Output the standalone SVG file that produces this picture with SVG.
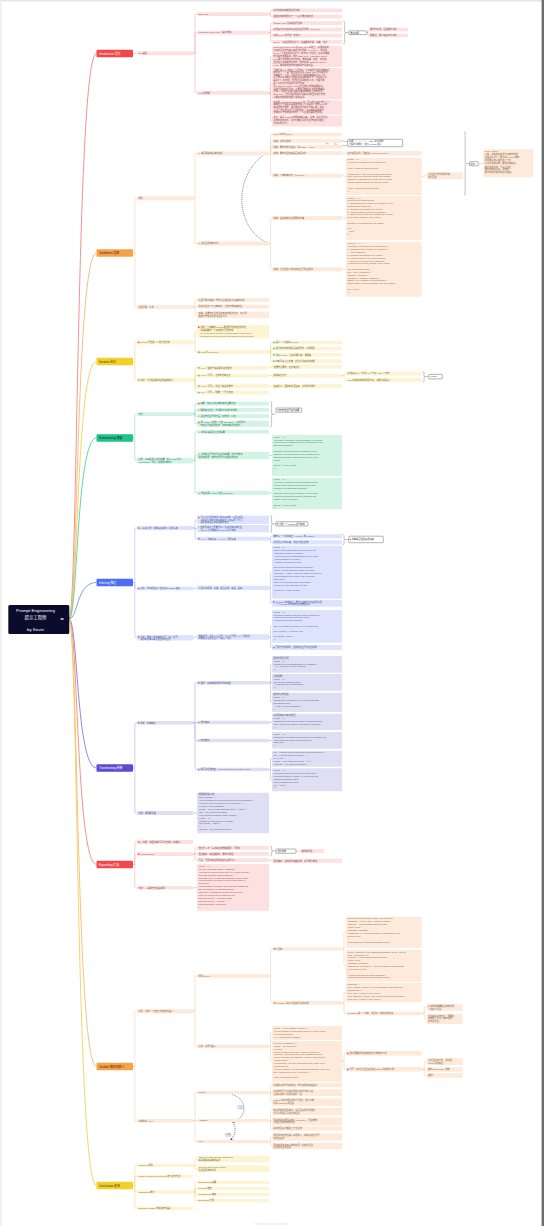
<svg xmlns="http://www.w3.org/2000/svg" width="544" height="1226" viewBox="0 0 544 1226">
<defs>
<style>
text{font-family:"Liberation Sans","Noto Sans CJK SC",sans-serif;font-size:2.2px}
.c{font-size:2.05px}
.h{font-size:2.9px}
.p1{fill:#fde1e1}.p2{fill:#fdeadb}.p3{fill:#fcf4d2}.p4{fill:#d3f4e4}.p5{fill:#dde3fd}.p6{fill:#e0def3}
.sm{fill:#fff;stroke:#555;stroke-width:.45}
#connectors path{fill:none;stroke-width:.6}
#connectors .r{stroke-width:.85}
.l1{stroke:#f6b0b0}.l2{stroke:#f6cda9}.l3{stroke:#efd77a}.l4{stroke:#8fdcb6}.l5{stroke:#a9b7f6}.l6{stroke:#b1ace2}
#connectors .br{stroke:#8a8a8a;stroke-width:.5}
#connectors .rel{stroke:#44506e;stroke-width:.6;stroke-dasharray:1.2 .8}
</style>
<marker id="ar" viewBox="0 0 6 6" refX="5" refY="3" markerWidth="4" markerHeight="4" orient="auto"><path d="M0 0L6 3L0 6z" fill="#44506e"/></marker>
</defs>
<rect width="544" height="1226" fill="#fff"/>
<rect width="544" height="1.5" fill="#e6e6e6"/>
<rect x="0" y="0" width="1.6" height="1226" fill="#efefef"/>
<rect x="541.6" y="0" width="2.4" height="1226" fill="#6e6e6e"/>

<g id="connectors">
<path class="r" stroke="#f47d7d" d="M69 619C78 619 76 53.5 96.5 53.5"/>
<path class="r" stroke="#f7b474" d="M69 619C78 619 76 253 96.5 253"/>
<path class="r" stroke="#efd04a" d="M69 619C78 619 76 361.5 96.5 361.5"/>
<path class="r" stroke="#4ccc96" d="M69 619C78 619 76 438 96.5 438"/>
<path class="r" stroke="#7088f3" d="M69 619C78 619 76 582.5 96.5 582.5"/>
<path class="r" stroke="#7d72d8" d="M69 619C78 619 76 768 96.5 768"/>
<path class="r" stroke="#f47d7d" d="M69 619C78 619 76 864.5 96.5 864.5"/>
<path class="r" stroke="#f7b474" d="M69 619C78 619 76 1066.5 96.5 1066.5"/>
<path class="r" stroke="#efd04a" d="M69 619C78 619 76 1185.5 96.5 1185.5"/>

<path class="l1" d="M133 53.5H136.7"/>
<path class="l1" d="M193.2 53.3H195V15.1Q195 14.1 196 14.1H197"/>
<path class="l1" d="M193.2 53.3H195V33.6Q195 32.6 196 32.6H197"/>
<path class="l1" d="M193.2 53.3H195V91.9Q195 92.9 196 92.9H197"/>
<path class="l1" d="M269 14.1H270.6V11.4Q270.6 10.4 271.6 10.4H272"/>
<path class="l1" d="M269 14.1H270.6V15.6Q270.6 16.6 271.6 16.6H272"/>
<path class="l1" d="M269 32.6H270.6V24.2Q270.6 23.2 271.6 23.2H272"/>
<path class="l1" d="M269 32.6H270.6V30.6Q270.6 29.6 271.6 29.6H272"/>
<path class="l1" d="M269 32.6H270.6V34.6Q270.6 35.6 271.6 35.6H272"/>
<path class="l1" d="M269 32.6H270.6V40.9Q270.6 41.9 271.6 41.9H272"/>
<path class="l1" d="M269 92.9H270.6V57.3Q270.6 56.3 271.6 56.3H272"/>
<path class="l1" d="M269 92.9H270.6V84.6Q270.6 83.6 271.6 83.6H272"/>
<path class="l1" d="M269 92.9H270.6V106.3Q270.6 107.3 271.6 107.3H272"/>
<path class="l1" d="M269 92.9H270.6V120Q270.6 121 271.6 121H272"/>
<path class="br" d="M343.2 21.3Q344.6 21.3 344.6 22.5V31.6Q344.6 32.6 346 32.6Q344.6 32.6 344.6 33.6V42.6Q344.6 43.8 343.2 43.8M346 32.6H348.7"/>
<path class="l1" d="M366.7 32.7H367.9V30.5Q367.9 29.5 368.5 29.5H369"/>
<path class="l1" d="M366.7 32.7H367.9V34.5Q367.9 35.5 368.5 35.5H369"/>

<path class="l2" d="M133 253H134.8V199.3Q134.8 198.3 135.8 198.3H136.7"/>
<path class="l2" d="M133 253H134.8V306Q134.8 307 135.8 307H136.7"/>
<path class="l2" d="M193.2 198.3H195V154.5Q195 153.5 196 153.5H197"/>
<path class="l2" d="M193.2 198.3H195V242.5Q195 243.5 196 243.5H197"/>
<path class="l2" d="M193.2 307H195V301.2Q195 300.2 196 300.2H197"/>
<path class="l2" d="M193.2 307H197"/>
<path class="l2" d="M193.2 307H195V314Q195 315 196 315H197"/>
<path class="l2" d="M269 153.5H270.6V135.6Q270.6 134.6 271.6 134.6H272"/>
<path class="l2" d="M269 153.5H270.6V141.9Q270.6 140.9 271.6 140.9H272"/>
<path class="l2" d="M269 153.5H270.6V147.9Q270.6 146.9 271.6 146.9H272"/>
<path class="l2" d="M269 153.5H272"/>
<path class="l2" d="M269 153.5H270.6V174.6Q270.6 175.6 271.6 175.6H272"/>
<path class="l2" d="M269 243.5H270.6V219Q270.6 218 271.6 218H272"/>
<path class="l2" d="M269 243.5H270.6V268.3Q270.6 269.3 271.6 269.3H272"/>
<path class="l2" d="M342 153.2H346"/>
<path class="l2" d="M342 175.6H344V176.3H346"/>
<path class="l2" d="M342 218H346"/>
<path class="l2" d="M342 269.3H346"/>
<path class="l2" d="M421.7 176.3H424V175.8H426.7"/>
<path class="br" d="M463.8 131.8Q465.2 131.8 465.2 133V162.5Q465.2 163.5 466.6 163.5Q465.2 163.5 465.2 164.5V193.8Q465.2 195 463.8 195M466.6 163.6H469.3"/>
<path class="l2" d="M478.3 163.7H483.3"/>
<path class="br" d="M334 143.3Q339 140.2 347.7 141.6M334 143.6Q339 147 347.7 145.2"/>
<path class="rel" marker-end="url(#ar)" d="M263 155.5C236 175 232 225 267.5 243.3"/>

<path class="l3" d="M133 361.5H134.8V343.3Q134.8 342.3 135.8 342.3H136.7"/>
<path class="l3" d="M133 361.5H134.8V379Q134.8 380 135.8 380H136.7"/>
<path class="l3" d="M193.2 342.3H195V332.6Q195 331.6 196 331.6H197"/>
<path class="l3" d="M193.2 342.3H195V351.2Q195 352.2 196 352.2H197"/>
<path class="l3" d="M193.2 380H195V368.8Q195 367.8 196 367.8H197"/>
<path class="l3" d="M193.2 380H195V376.5Q195 375.5 196 375.5H197"/>
<path class="l3" d="M193.2 380H195V385.1Q195 386.1 196 386.1H197"/>
<path class="l3" d="M193.2 380H195V391.5Q195 392.5 196 392.5H197"/>
<path class="l3" d="M269 352.2H270.6V343.5Q270.6 342.5 271.6 342.5H272"/>
<path class="l3" d="M269 352.2H270.6V349.5Q270.6 348.5 271.6 348.5H272"/>
<path class="l3" d="M269 352.2H270.6V353.8Q270.6 354.8 271.6 354.8H272"/>
<path class="l3" d="M269 352.2H270.6V360.1Q270.6 361.1 271.6 361.1H272"/>
<path class="l3" d="M269 367.8H270.6V366.8H272"/>
<path class="l3" d="M269 375.5H272"/>
<path class="l3" d="M269 386.1H272"/>
<path class="l3" d="M342 375.5H344V374.6Q344 373.6 345 373.6H346"/>
<path class="l3" d="M342 375.5H344V378.9Q344 379.9 345 379.9H346"/>
<path class="br" d="M422.6 371.6Q424 371.6 424 372.8V375.7Q424 376.7 425.4 376.7Q424 376.7 424 377.7V380.8Q424 382 422.6 382M425.4 376.7H428.7"/>

<path class="l4" d="M133 438H134.8V415.1Q134.8 414.1 135.8 414.1H136.7"/>
<path class="l4" d="M133 438H134.8V459.6Q134.8 460.6 135.8 460.6H136.7"/>
<path class="l4" d="M193.2 414.1H195V404.6Q195 403.6 196 403.6H197"/>
<path class="l4" d="M193.2 414.1H195V410.9Q195 409.9 196 409.9H197"/>
<path class="l4" d="M193.2 414.1H195V415.2Q195 416.2 196 416.2H197"/>
<path class="l4" d="M193.2 414.1H195V422.7Q195 423.7 196 423.7H197"/>
<path class="l4" d="M193.2 460.6H195V432.7Q195 431.7 196 431.7H197"/>
<path class="l4" d="M193.2 460.6H195V456.5Q195 455.5 196 455.5H197"/>
<path class="l4" d="M193.2 460.6H195V491.8Q195 492.8 196 492.8H197"/>
<path class="l4" d="M269 455.5H272"/>
<path class="l4" d="M269 492.8H270.6V493.5H272"/>
<path class="br" d="M270.2 401.6Q271.6 401.6 271.6 402.8V413.1Q271.6 414.1 273 414.1Q271.6 414.1 271.6 415.1V425.6Q271.6 426.8 270.2 426.8M273 414.1H276"/>

<path class="l5" d="M133 582.5H134.8V529Q134.8 528 135.8 528H136.7"/>
<path class="l5" d="M133 582.5H134.8V587.5Q134.8 588.5 135.8 588.5H136.7"/>
<path class="l5" d="M133 582.5H134.8V636.7Q134.8 637.7 135.8 637.7H136.7"/>
<path class="l5" d="M193.2 528H195V520.9Q195 519.9 196 519.9H197"/>
<path class="l5" d="M193.2 528H195V528.6H197"/>
<path class="l5" d="M193.2 528H195V537.7Q195 538.7 196 538.7H197"/>
<path class="l5" d="M193.2 588.5H195V587.8H197"/>
<path class="l5" d="M193.2 637.7H195V637H197"/>
<path class="l5" d="M269 538.7H270.6V537.3Q270.6 536.3 271.6 536.3H272"/>
<path class="l5" d="M269 538.7H270.6V541.4Q270.6 542.4 271.6 542.4H272"/>
<path class="l5" d="M269 587.8H270.6V573.2Q270.6 572.2 271.6 572.2H272"/>
<path class="l5" d="M269 587.8H270.6V602.3Q270.6 603.3 271.6 603.3H272"/>
<path class="l5" d="M269 637H270.6V627.3Q270.6 626.3 271.6 626.3H272"/>
<path class="l5" d="M269 637H270.6V646.5Q270.6 647.5 271.6 647.5H272"/>
<path class="br" d="M270.2 515.6Q271.6 515.6 271.6 516.8V522.9Q271.6 523.9 273 523.9Q271.6 523.9 271.6 524.9V531.2Q271.6 532.4 270.2 532.4M273 523.9H276"/>
<path class="br" d="M342.6 534.2Q344 534.2 344 535.4V538.4Q344 539.4 345.4 539.4Q344 539.4 344 540.4V543.5Q344 544.7 342.6 544.7M345.4 539.4H348.7"/>

<path class="l6" d="M133 768H134.8V723.8Q134.8 722.8 135.8 722.8H136.7"/>
<path class="l6" d="M133 768H134.8V812Q134.8 813 135.8 813H136.7"/>
<path class="l6" d="M193.2 722.8H195V683.8Q195 682.8 196 682.8H197"/>
<path class="l6" d="M193.2 722.8H195V722.5H197"/>
<path class="l6" d="M193.2 722.8H195V739.5Q195 740.5 196 740.5H197"/>
<path class="l6" d="M193.2 722.8H195V768.5Q195 769.5 196 769.5H197"/>
<path class="l6" d="M193.2 813H197"/>
<path class="l6" d="M269 682.8H270.6V665.3Q270.6 664.3 271.6 664.3H272"/>
<path class="l6" d="M269 682.8H270.6V682.3H272"/>
<path class="l6" d="M269 682.8H270.6V701.3Q270.6 702.3 271.6 702.3H272"/>
<path class="l6" d="M269 722.5H270.6V721.8H272"/>
<path class="l6" d="M269 740.5H272"/>
<path class="l6" d="M269 769.5H270.6V759.7Q270.6 758.7 271.6 758.7H272"/>
<path class="l6" d="M269 769.5H270.6V778.8Q270.6 779.8 271.6 779.8H272"/>

<path class="l1" d="M133 864.5H134.8V843Q134.8 842 135.8 842H136.7"/>
<path class="l1" d="M133 864.5H134.8V855.1Q134.8 854.1 135.8 854.1H136.7"/>
<path class="l1" d="M133 864.5H134.8V886.8Q134.8 887.8 135.8 887.8H136.7"/>
<path class="l1" d="M193.2 854.1H195V848.8Q195 847.8 196 847.8H197"/>
<path class="l1" d="M193.2 854.1H195V853.8H197"/>
<path class="l1" d="M193.2 854.1H195V859.1Q195 860.1 196 860.1H197"/>
<path class="l1" d="M193.2 887.8H195V887.3H197"/>
<path class="l1" d="M269 860.1H270.6V860.7H272"/>
<path class="br" d="M270.2 845.9Q271.6 845.9 271.6 847.1V849.9Q271.6 850.9 273 850.9Q271.6 850.9 271.6 851.9V854.6Q271.6 855.8 270.2 855.8M273 850.9H276"/>
<path class="l1" d="M296 851.1H300"/>

<path class="l2" d="M133 1066.5H134.8V1012.3Q134.8 1011.3 135.8 1011.3H136.7"/>
<path class="l2" d="M133 1066.5H134.8V1119.7Q134.8 1120.7 135.8 1120.7H136.7"/>
<path class="l2" d="M193.2 1011.3H195V977Q195 976 196 976H197"/>
<path class="l2" d="M193.2 1011.3H195V1045.5Q195 1046.5 196 1046.5H197"/>
<path class="l2" d="M193.2 1120.7H195V1093.6Q195 1092.6 196 1092.6H197"/>
<path class="l2" d="M193.2 1120.7H197"/>
<path class="l2" d="M193.2 1120.7H195V1140.6Q195 1141.6 196 1141.6H197"/>
<path class="l2" d="M269 976H270.6V949.9Q270.6 948.9 271.6 948.9H272"/>
<path class="l2" d="M269 976H270.6V1001.8Q270.6 1002.8 271.6 1002.8H272"/>
<path class="l2" d="M269 1046.5H270.6V1034Q270.6 1033 271.6 1033H272"/>
<path class="l2" d="M269 1046.5H270.6V1060.3Q270.6 1061.3 271.6 1061.3H272"/>
<path class="l2" d="M269 1092.6H270.6V1086Q270.6 1085 271.6 1085H272"/>
<path class="l2" d="M269 1092.6H272"/>
<path class="l2" d="M269 1092.6H270.6V1101.1Q270.6 1102.1 271.6 1102.1H272"/>
<path class="l2" d="M269 1120.6H270.6V1112.5Q270.6 1111.5 271.6 1111.5H272"/>
<path class="l2" d="M269 1120.6H270.6V1121.3H272"/>
<path class="l2" d="M269 1120.6H270.6V1127.5Q270.6 1128.5 271.6 1128.5H272"/>
<path class="l2" d="M269 1141.6H270.6V1138Q270.6 1137 271.6 1137H272"/>
<path class="l2" d="M269 1141.6H270.6V1145Q270.6 1146 271.6 1146H272"/>
<path class="l2" d="M342 948.9H344V933.2Q344 932.2 345 932.2H346"/>
<path class="l2" d="M342 948.9H344V964.8Q344 965.8 345 965.8H346"/>
<path class="l2" d="M342 1002.8H344V993.5Q344 992.5 345 992.5H346"/>
<path class="l2" d="M342 1002.8H344V1012.5Q344 1013.5 345 1013.5H346"/>
<path class="l2" d="M342 1061.3H344V1054.3Q344 1053.3 345 1053.3H346"/>
<path class="l2" d="M342 1061.3H344V1068.3Q344 1069.3 345 1069.3H346"/>
<path class="l2" d="M421.7 1013.5H424.2V1008.3Q424.2 1007.3 425.2 1007.3H426.7"/>
<path class="l2" d="M421.7 1013.5H424.2V1018Q424.2 1019 425.2 1019H426.7"/>
<path class="l2" d="M421.7 1069.3H424.2V1062.6Q424.2 1061.6 425.2 1061.6H426.7"/>
<path class="l2" d="M421.7 1069.3H424.2V1069.5H426.7"/>
<path class="l2" d="M421.7 1069.3H424.2V1074.5Q424.2 1075.5 425.2 1075.5H426.7"/>
<path class="rel" marker-end="url(#ar)" d="M231.7 1094.4C248 1099 248 1117 232.5 1122.4"/>
<path class="rel" marker-end="url(#ar)" d="M233 1122.4C237 1128 235 1136 230.5 1139.9"/>

<path class="l3" d="M133 1185.5H134.8V1166.3Q134.8 1165.3 135.8 1165.3H136.7"/>
<path class="l3" d="M133 1185.5H134.8V1177.6Q134.8 1176.6 135.8 1176.6H136.7"/>
<path class="l3" d="M133 1185.5H134.8V1191Q134.8 1192 135.8 1192H136.7"/>
<path class="l3" d="M133 1185.5H134.8V1207.3Q134.8 1208.3 135.8 1208.3H136.7"/>
<path class="l3" d="M193.2 1165.3H195V1160Q195 1159 196 1159H197"/>
<path class="l3" d="M193.2 1165.3H195V1167.6Q195 1168.6 196 1168.6H197"/>
<path class="l3" d="M193.2 1192H195V1183.3Q195 1182.3 196 1182.3H197"/>
<path class="l3" d="M193.2 1192H195V1189.6Q195 1188.6 196 1188.6H197"/>
<path class="l3" d="M193.2 1192H195V1193.6Q195 1194.6 196 1194.6H197"/>
<path class="l3" d="M193.2 1192H195V1199.6Q195 1200.6 196 1200.6H197"/>
</g>

<g id="root">
<rect x="8.3" y="605" width="61" height="29" rx="1.5" fill="#0b0b2e"/>
<text x="35.5" y="611.8" text-anchor="middle" fill="#fff" style="font-size:4.4px">Prompt Engineering</text>
<text x="35.5" y="618.6" text-anchor="middle" fill="#fff" style="font-size:4.4px">提示工程师</text>
<text x="35.5" y="630.6" text-anchor="middle" fill="#fff" style="font-size:4.4px">by Kevin</text>
<rect x="60.6" y="618.3" width="3" height="1.3" fill="#fff"/>
</g>

<g id="intro" fill="#8a4545">
<g id="n-intro"><rect x="96.5" y="49.8" width="36.5" height="7.4" rx="1" fill="#f3474a"/><text class="h" x="99" y="54.6" fill="#fff">Introduction 导言</text></g>
<g id="n-llmtype"><rect class="p1" x="136.7" y="51.3" width="56.5" height="4" rx=".8"/><text x="138.4" y="54.1">LLM类型</text></g>
<g id="n-base"><rect class="p1" x="197" y="12.2" width="72" height="3.8" rx=".8"/><text x="198.5" y="14.9">Base LLM</text></g>
<g id="n-it"><rect class="p1" x="197" y="30.7" width="72" height="3.8" rx=".8"/><text x="198.5" y="33.4">Instruction Tuned LLM（指令调优）</text></g>
<g id="n-principle"><rect class="p1" x="197" y="91" width="72" height="3.8" rx=".8"/><text x="198.5" y="93.7">LLM 的原理</text></g>
<g id="n-base1"><rect class="p1" x="272" y="8.5" width="70" height="3.8" rx=".8"/><text x="273.5" y="11.2">基于文本训练数据进行训练</text></g>
<g id="n-base2"><rect class="p1" x="272" y="14.7" width="70" height="3.8" rx=".8"/><text x="273.5" y="17.4">根据训练数据预测下一个最可能出现的词</text></g>
<g id="n-it1"><rect class="p1" x="272" y="21.3" width="70" height="3.8" rx=".8"/><text x="273.5" y="24">以 Base LLM 为基础进行训练</text></g>
<g id="n-it2"><rect class="p1" x="272" y="27.7" width="70" height="3.8" rx=".8"/><text x="273.5" y="30.4">使用指令及对应的良好回答进行微调（fine-tune）</text></g>
<g id="n-it3"><rect class="p1" x="272" y="33.7" width="70" height="3.8" rx=".8"/><text x="273.5" y="36.4">使用 RLHF 技术进一步优化</text></g>
<g id="n-it4"><rect class="p1" x="272" y="40" width="70" height="3.8" rx=".8"/><text x="273.5" y="42.7">RLHF：人类反馈强化学习，使其更有帮助、诚实、无害</text></g>
<g id="n-it-sum"><rect class="sm" x="348.7" y="30.8" width="18" height="3.8" rx=".8"/><text x="350.3" y="33.5" fill="#333">推荐使用</text></g>
<g id="n-it-s1"><rect class="p1" x="369" y="27.7" width="39" height="3.6" rx=".8"/><text x="370.3" y="30.3">更易于使用，回答更有帮助</text></g>
<g id="n-it-s2"><rect class="p1" x="369" y="33.7" width="39" height="3.6" rx=".8"/><text x="370.3" y="36.3">更安全，更少输出有害内容</text></g>
<g id="n-pa"><rect class="p1" x="272" y="45.7" width="70" height="21.2" rx=".8"/>
<text x="273.5" y="48.4"><tspan x="273.5">Instruction Tuned LLM 在 Base LLM 基础上，使用指令和</tspan><tspan x="273.5" dy="2.9">良好的回答作为输入输出进行微调（fine-tune），再使用</tspan><tspan x="273.5" dy="2.9">RLHF（人类反馈强化学习）技术进一步优化，使系统更能</tspan><tspan x="273.5" dy="2.9">有帮助地遵循指令。相比 Base LLM，Instruction Tuned</tspan><tspan x="273.5" dy="2.9">LLM 更不容易输出有害内容，更加诚实、安全、有帮助，</tspan><tspan x="273.5" dy="2.9">因此在大多数实际应用中，推荐使用 Instruction Tuned</tspan><tspan x="273.5" dy="2.9">LLM。本课程的所有内容都基于此类模型。</tspan></text></g>
<g id="n-pb"><rect class="p1" x="272" y="68" width="70" height="31.2" rx=".8"/>
<text x="273.5" y="70.6"><tspan x="273.5">当我们向 LLM 提出一个问题时，它会根据已经学到的知识</tspan><tspan x="273.5" dy="2.6">来预测下一个最可能出现的词语。Base LLM 仅仅是预测</tspan><tspan x="273.5" dy="2.6">文本的下一个词，因此当你问“法国的首都是什么？”时，</tspan><tspan x="273.5" dy="2.6">它可能会接着输出“法国最大的城市是什么？法国的人口</tspan><tspan x="273.5" dy="2.6">是多少？”等内容，因为在互联网的文章中，这很可能</tspan><tspan x="273.5" dy="2.6">是一系列关于法国的问答题列表。</tspan><tspan x="273.5" dy="3.6">而 Instruction Tuned LLM 经过训练后能够遵循指令，</tspan><tspan x="273.5" dy="2.6">当你问同样的问题时，它更有可能输出“法国的首都是</tspan><tspan x="273.5" dy="2.6">巴黎”。这类模型通常先在大量文本数据上训练得到</tspan><tspan x="273.5" dy="2.6">Base LLM，然后再使用指令及其良好的回答进行微调，</tspan><tspan x="273.5" dy="2.6">以更好地理解和遵循人类的指令。</tspan></text></g>
<g id="n-pc"><rect class="p1" x="272" y="100.2" width="70" height="14.3" rx=".8"/>
<text x="273.5" y="102.7"><tspan x="273.5">在使用 Instruction Tuned LLM 时，可以把它类比为给一个</tspan><tspan x="273.5" dy="2.6">聪明但不了解任务具体细节的人下达指令。如果 LLM 的</tspan><tspan x="273.5" dy="2.6">输出结果不理想，很可能是因为指令不够清晰。例如，</tspan><tspan x="273.5" dy="2.6">“请写一些关于艾伦·图灵的内容”，最好明确说明希望</tspan><tspan x="273.5" dy="2.6">文本侧重于他的科学工作、个人生活还是历史角色。</tspan></text></g>
<g id="n-pd"><rect class="p1" x="272" y="115.5" width="70" height="11" rx=".8"/>
<text x="273.5" y="118.3"><tspan x="273.5">总之，编写 prompt 的原则就是清晰、具体，并给予模型</tspan><tspan x="273.5" dy="2.8">足够的思考时间，同时也要意识到模型存在的局限性，</tspan><tspan x="273.5" dy="2.8">比如幻觉问题。</tspan></text></g>
</g>

<g id="guidelines" fill="#85603f">
<g id="n-guide"><rect x="96.5" y="249.3" width="36.5" height="7.4" rx="1" fill="#f7a24b"/><text class="h" x="99" y="254.1" fill="#3a2716">Guidelines 指南</text></g>
<g id="n-yz"><rect class="p2" x="136.7" y="196.3" width="56.5" height="4" rx=".8"/><text x="138.4" y="199.1">原则</text></g>
<g id="n-hal"><rect class="p2" x="136.7" y="305" width="56.5" height="4" rx=".8"/><text x="138.4" y="307.8">模型局限：幻觉</text></g>
<g id="n-g1"><rect class="p2" x="197" y="151.5" width="72" height="4" rx=".8"/><text x="198.5" y="154.3">1. 编写明确和具体的指令</text></g>
<g id="n-g2"><rect class="p2" x="197" y="241.5" width="72" height="4" rx=".8"/><text x="198.5" y="244.3">2. 给模型思考的时间</text></g>
<g id="n-h1"><rect class="p2" x="197" y="298.3" width="72" height="3.8" rx=".8"/><text x="198.5" y="301">模型可能会编造一些看似合理但并不真实的内容</text></g>
<g id="n-h2"><rect class="p2" x="197" y="304.7" width="72" height="3.8" rx=".8"/><text x="198.5" y="307.4">即使模型学习了大量知识，也并不能完美记住</text></g>
<g id="n-h3"><rect class="p2" x="197" y="311.7" width="72" height="6.6" rx=".8"/><text x="198.5" y="314.4"><tspan x="198.5">策略：先要求模型找到文本中的相关信息，然后再</tspan><tspan x="198.5" dy="2.8">根据这些相关信息来回答问题</tspan></text></g>
<g id="n-g1a"><rect class="p2" x="272" y="132.7" width="70" height="3.8" rx=".8"/><text x="273.5" y="135.4">Clear 不等于 Short</text></g>
<g id="n-g1b"><rect class="p2" x="272" y="139" width="70" height="3.8" rx=".8"/><text x="273.5" y="141.7">策略：使用分隔符</text></g>
<g id="n-g1c"><rect class="p2" x="272" y="145" width="70" height="3.8" rx=".8"/><text x="273.5" y="147.7">策略：要求结构化输出，如 JSON、HTML</text></g>
<g id="n-g1d"><rect class="p2" x="272" y="151.3" width="70" height="3.8" rx=".8"/><text x="273.5" y="154">策略：要求模型检查是否满足条件</text></g>
<g id="n-g1e"><rect class="p2" x="272" y="173.7" width="70" height="3.8" rx=".8"/><text x="273.5" y="176.4">策略：少量样本提示（few-shot）</text></g>
<text x="325.6" y="144" style="font-size:1.5px" fill="#666">分隔</text>
<g id="n-delim"><rect class="sm" x="347.7" y="139.3" width="55" height="7.4" rx=".8"/><text x="349.2" y="142.1" fill="#333"><tspan x="349.2">使用 ```、"""、&lt; &gt;、&lt;tag&gt; 等分隔符</tspan><tspan x="349.2" dy="2.9">分隔不同部分，避免 prompt 注入</tspan></text></g>
<g id="n-g1d1"><rect class="p2" x="346" y="151" width="75.7" height="4.6" rx=".8"/><text x="347.5" y="154">若不满足条件，则输出“No steps provided.”</text></g>
<g id="n-g1e1"><rect class="p2" x="346" y="157.7" width="75.7" height="37.3" rx=".8"/>
<text class="c" x="347.5" y="160.3"><tspan x="347.5">prompt = f"""</tspan><tspan x="347.5" dy="2.85">Your task is to answer in a consistent style.</tspan><tspan x="347.5" dy="5.7">&lt;child&gt;: Teach me about patience.</tspan><tspan x="347.5" dy="5.7">&lt;grandparent&gt;: The river that carves the deepest</tspan><tspan x="347.5" dy="2.85">valley flows from a modest spring; the grandest</tspan><tspan x="347.5" dy="2.85">symphony originates from a single note; the most</tspan><tspan x="347.5" dy="2.85">intricate tapestry begins with a solitary thread.</tspan><tspan x="347.5" dy="5.7">&lt;child&gt;: Teach me about resilience.</tspan><tspan x="347.5" dy="2.85">"""</tspan></text></g>
<g id="n-g1e2"><rect class="p2" x="426.7" y="172.3" width="36" height="7" rx=".8"/><text x="428" y="175.2"><tspan x="428">让模型模仿示例的风格</tspan><tspan x="428" dy="2.8">进行回答</tspan></text></g>
<g id="n-g1sum"><rect class="sm" x="469.3" y="161.6" width="9" height="4.2" rx=".8"/><text x="470.6" y="164.5" fill="#333">提示</text></g>
<g id="n-g1note"><rect class="p2" x="483.3" y="149.3" width="50" height="28" rx=".8"/>
<text x="484.8" y="152.2"><tspan x="484.8">Clear ≠ Short：</tspan><tspan x="484.8" dy="3.2">清晰、具体的指令并不意味着简短，</tspan><tspan x="484.8" dy="2.8">在很多情况下，更长的 prompt 能够</tspan><tspan x="484.8" dy="2.8">提供更多的清晰度和上下文，</tspan><tspan x="484.8" dy="2.8">从而得到更详细、更相关的输出。</tspan><tspan x="484.8" dy="3.8">通过提供示例，可以让模型</tspan><tspan x="484.8" dy="2.8">更好地理解任务，并按照</tspan><tspan x="484.8" dy="2.8">期望的格式和风格进行输出。</tspan></text></g>
<g id="n-g2a"><rect class="p2" x="272" y="216" width="70" height="4" rx=".8"/><text x="273.5" y="218.8">策略：指定完成任务所需的步骤</text></g>
<g id="n-g2b"><rect class="p2" x="272" y="267.3" width="70" height="4" rx=".8"/><text x="273.5" y="270.1">策略：让模型在下结论前先自己找出解法</text></g>
<g id="n-g2a1"><rect class="p2" x="346" y="196" width="75.7" height="44" rx=".8"/>
<text class="c" x="347.5" y="198.6"><tspan x="347.5">prompt_1 = f"""</tspan><tspan x="347.5" dy="2.8">Perform the following actions:</tspan><tspan x="347.5" dy="2.8">1 - Summarize the following text delimited by triple</tspan><tspan x="347.5" dy="2.8">backticks with 1 sentence.</tspan><tspan x="347.5" dy="2.8">2 - Translate the summary into French.</tspan><tspan x="347.5" dy="2.8">3 - List each name in the French summary.</tspan><tspan x="347.5" dy="2.8">4 - Output a json object that contains the following</tspan><tspan x="347.5" dy="2.8">keys: french_summary, num_names.</tspan><tspan x="347.5" dy="5.6">Separate your answers with line breaks.</tspan><tspan x="347.5" dy="5.6">Text:</tspan><tspan x="347.5" dy="2.8">```{text}```</tspan><tspan x="347.5" dy="2.8">"""</tspan></text></g>
<g id="n-g2b1"><rect class="p2" x="346" y="241.7" width="75.7" height="55" rx=".8"/>
<text class="c" x="347.5" y="244.4"><tspan x="347.5">prompt_2 = f"""</tspan><tspan x="347.5" dy="2.85">Your task is to perform the following actions:</tspan><tspan x="347.5" dy="2.85">1 - Summarize the following text delimited by</tspan><tspan x="347.5" dy="2.85">  &lt;&gt; with 1 sentence.</tspan><tspan x="347.5" dy="2.85">2 - Translate the summary into French.</tspan><tspan x="347.5" dy="2.85">3 - List each name in the French summary.</tspan><tspan x="347.5" dy="2.85">4 - Output a json object that contains the</tspan><tspan x="347.5" dy="2.85">  following keys: french_summary, num_names.</tspan><tspan x="347.5" dy="5.7">Use the following format:</tspan><tspan x="347.5" dy="2.85">Text: &lt;text to summarize&gt;</tspan><tspan x="347.5" dy="2.85">Summary: &lt;summary&gt;</tspan><tspan x="347.5" dy="2.85">Translation: &lt;summary translation&gt;</tspan><tspan x="347.5" dy="2.85">Names: &lt;list of names in French summary&gt;</tspan><tspan x="347.5" dy="2.85">Output JSON: &lt;json with summary and num_names&gt;</tspan><tspan x="347.5" dy="5.7">Text: &lt;{text}&gt;</tspan><tspan x="347.5" dy="2.85">"""</tspan></text></g>
</g>

<g id="iterative" fill="#7a6620">
<g id="n-iter"><rect x="96.5" y="357.8" width="36.5" height="7.4" rx="1" fill="#f2d12a"/><text class="h" x="99" y="362.6" fill="#3a3010">Iterative 迭代</text></g>
<g id="n-i1"><rect class="p3" x="136.7" y="340.3" width="56.5" height="4" rx=".8"/><circle cx="138.6" cy="342.3" r=".85" fill="#f0504a"/><text x="140.2" y="343.1">Prompt 开发是一个迭代的过程</text></g>
<g id="n-i2"><rect class="p3" x="136.7" y="378" width="56.5" height="4" rx=".8"/><circle cx="138.6" cy="380" r=".85" fill="#3cc07a"/><text x="140.2" y="380.8">案例：从产品说明书生成营销文案</text></g>
<g id="n-i1a"><rect class="p3" x="197" y="325" width="72" height="13.3" rx=".8"/><circle cx="198.8" cy="327.2" r=".85" fill="#f0504a"/><text x="200.4" y="327.9"><tspan x="200.4">没有一个完美的 prompt 能适用于所有应用场景，</tspan><tspan x="200.4" dy="2.8">关键是要有一个好的迭代开发流程</tspan><tspan x="200.4" dy="3">key to being an effective prompt engineer isn't about</tspan><tspan x="200.4" dy="2.8">knowing the perfect prompt, but having a good process</tspan></text></g>
<g id="n-i1b"><rect class="p3" x="197" y="350.3" width="72" height="3.8" rx=".8"/><circle cx="198.8" cy="352.2" r=".85" fill="#3cc07a"/><text x="200.4" y="353">Idea ⇄ Implement</text></g>
<g id="n-i1b1"><rect class="p3" x="272" y="340.7" width="70" height="3.6" rx=".8"/><circle cx="273.8" cy="342.5" r=".85" fill="#3cc07a"/><text x="275.4" y="343.3">先写一个初始的 prompt</text></g>
<g id="n-i1b2"><rect class="p3" x="272" y="346.7" width="70" height="3.6" rx=".8"/><circle cx="273.8" cy="348.5" r=".85" fill="#3cc07a"/><text x="275.4" y="349.3">运行并观察结果是否满足需求，分析原因</text></g>
<g id="n-i1b3"><rect class="p3" x="272" y="353" width="70" height="3.6" rx=".8"/><circle cx="273.8" cy="354.8" r=".85" fill="#3cc07a"/><text x="275.4" y="355.6">改进 prompt，让指令更清晰、更明确</text></g>
<g id="n-i1b4"><rect class="p3" x="272" y="359.3" width="70" height="3.6" rx=".8"/><circle cx="273.8" cy="361.1" r=".85" fill="#3cc07a"/><text x="275.4" y="361.9">不断重复以上步骤，直到得到满意的结果</text></g>
<g id="n-v1"><rect class="p3" x="197" y="366" width="72" height="3.7" rx=".8"/><circle cx="198.8" cy="367.8" r=".85" fill="#3cc07a"/><text x="200.4" y="368.6">Ver.1：根据产品说明书生成描述</text></g>
<g id="n-v2"><rect class="p3" x="197" y="373.7" width="72" height="3.7" rx=".8"/><circle cx="198.8" cy="375.5" r=".85" fill="#3cc07a"/><text x="200.4" y="376.3">Ver.2：问题1：生成的文本太长</text></g>
<g id="n-v3"><rect class="p3" x="197" y="384.3" width="72" height="3.7" rx=".8"/><circle cx="198.8" cy="386.1" r=".85" fill="#3cc07a"/><text x="200.4" y="386.9">Ver.3：问题2：关注了错误的细节</text></g>
<g id="n-v4"><rect class="p3" x="197" y="390.7" width="72" height="3.7" rx=".8"/><circle cx="198.8" cy="392.5" r=".85" fill="#3cc07a"/><text x="200.4" y="393.3">Ver.4：问题3：需要一个尺寸表格</text></g>
<g id="n-v1a"><rect class="p3" x="272" y="365" width="70" height="3.7" rx=".8"/><text x="273.5" y="367.6">结果符合要求，但文本太长</text></g>
<g id="n-v2a"><rect class="p3" x="272" y="373.7" width="70" height="3.7" rx=".8"/><text x="273.5" y="376.3">限制输出长度</text></g>
<g id="n-v3a"><rect class="p3" x="272" y="384.3" width="70" height="3.7" rx=".8"/><text x="273.5" y="386.9">指定受众：面向家具零售商，侧重技术细节</text></g>
<g id="n-v2a1"><rect class="p3" x="346" y="371.7" width="75.7" height="3.8" rx=".8"/><text x="347.5" y="374.4">使用最多 50 个单词 / 3 个句子 / 280 个字符</text></g>
<g id="n-v2a2"><rect class="p3" x="346" y="378" width="75.7" height="3.8" rx=".8"/><text x="347.5" y="380.7">LLM 对精确字数的把握不好，结果只是接近</text></g>
<g id="n-extract"><rect class="sm" x="428.7" y="374.4" width="13.6" height="4.5" rx=".8"/><text x="430.1" y="377.4" fill="#333">extract</text></g>
</g>

<g id="summarizing" fill="#2d7656">
<g id="n-summ"><rect x="96.5" y="434.3" width="36.5" height="7.4" rx="1" fill="#1ec485"/><text class="h" x="99" y="439.1" fill="#0f2f22">Summarizing 摘要</text></g>
<g id="n-s1"><rect class="p4" x="136.7" y="412.3" width="56.5" height="3.6" rx=".8"/><text x="138.4" y="414.9">方法</text></g>
<g id="n-s2"><rect class="p4" x="136.7" y="457.7" width="56.5" height="5.8" rx=".8"/><text x="138.4" y="460"><tspan x="138.4">案例：对商品评论进行摘要（在 prompt 中以</tspan><tspan x="138.4" dy="2.7">“Summarize” 开头，并限制字数等）</tspan></text></g>
<g id="n-s1a"><rect class="p4" x="197" y="401.7" width="72" height="3.8" rx=".8"/><circle cx="198.8" cy="403.6" r=".85" fill="#f0504a"/><text x="200.4" y="404.4">摘要：快速了解大量文本的主要内容</text></g>
<g id="n-s1b"><rect class="p4" x="197" y="408" width="72" height="3.8" rx=".8"/><circle cx="198.8" cy="409.9" r=".85" fill="#f0c830"/><text x="200.4" y="410.7">限制输出长度（单词数/句子数/字符数）</text></g>
<g id="n-s1c"><rect class="p4" x="197" y="414.3" width="72" height="3.8" rx=".8"/><circle cx="198.8" cy="416.2" r=".85" fill="#f0c830"/><text x="200.4" y="417">关注特定主题或方面（如物流、价格）</text></g>
<g id="n-s1d"><rect class="p4" x="197" y="420.7" width="72" height="6" rx=".8"/><circle cx="198.8" cy="422.6" r=".85" fill="#f0504a"/><text x="200.4" y="423.3"><tspan x="200.4">用 extract（提取）代替 summarize，只提取与</tspan><tspan x="200.4" dy="2.7">特定主题相关的信息（如物流相关的信息）</tspan></text></g>
<g id="n-s1sum"><rect class="sm" x="276" y="408" width="25.7" height="4.2" rx=".8"/><text x="277.4" y="410.9" fill="#333">针对特定主题进行摘要</text></g>
<g id="n-s2a"><rect class="p4" x="197" y="430" width="72" height="3.4" rx=".8"/><text x="198.5" y="432.5">1. 对单条商品评论生成摘要</text></g>
<g id="n-s2b"><rect class="p4" x="197" y="451.7" width="72" height="7.6" rx=".8"/><text x="198.5" y="454.7"><tspan x="198.5">2. 以特定主题为侧重点生成摘要：侧重于物流</tspan><tspan x="198.5" dy="2.8">相关的信息，或者侧重于价格相关的信息</tspan></text></g>
<g id="n-s2c"><rect class="p4" x="197" y="490.7" width="72" height="4.3" rx=".8"/><text x="198.5" y="493.6">3. 尝试使用 extract 代替 summarize</text></g>
<g id="n-s2b1"><rect class="p4" x="272" y="435" width="70" height="41" rx=".8"/>
<text class="c" x="273.5" y="437.7"><tspan x="273.5">prompt = f"""</tspan><tspan x="273.5" dy="2.85">Your task is to generate a short summary of a product</tspan><tspan x="273.5" dy="2.85">review from an ecommerce site to give feedback to the</tspan><tspan x="273.5" dy="2.85">Shipping department.</tspan><tspan x="273.5" dy="5.7">Summarize the review below, delimited by triple</tspan><tspan x="273.5" dy="2.85">backticks, in at most 30 words, and focusing on any</tspan><tspan x="273.5" dy="2.85">aspects that mention shipping and delivery of the</tspan><tspan x="273.5" dy="2.85">product.</tspan><tspan x="273.5" dy="5.7">Review: ```{prod_review}```</tspan><tspan x="273.5" dy="2.85">"""</tspan></text></g>
<g id="n-s2c1"><rect class="p4" x="272" y="477.7" width="70" height="31.6" rx=".8"/>
<text class="c" x="273.5" y="480.3"><tspan x="273.5">prompt = f"""</tspan><tspan x="273.5" dy="2.8">Your task is to extract relevant information from a</tspan><tspan x="273.5" dy="2.8">product review from an ecommerce site to give</tspan><tspan x="273.5" dy="2.8">feedback to the Shipping department.</tspan><tspan x="273.5" dy="5.6">From the review below, delimited by triple quotes</tspan><tspan x="273.5" dy="2.8">extract the information relevant to shipping and</tspan><tspan x="273.5" dy="2.8">delivery. Limit to 30 words.</tspan><tspan x="273.5" dy="5.6">Review: ```{prod_review}```</tspan><tspan x="273.5" dy="2.8">"""</tspan></text></g>
</g>

<g id="inferring" fill="#44549a">
<g id="n-inf"><rect x="96.5" y="578.8" width="36.5" height="7.4" rx="1" fill="#4d6ef5"/><text class="h" x="99" y="583.6" fill="#fff">Inferring 推理</text></g>
<g id="n-f1"><rect class="p5" x="136.7" y="526" width="56.5" height="4" rx=".8"/><circle cx="138.6" cy="528" r=".85" fill="#f0504a"/><text x="140.2" y="528.8">1. 情感分析：判断情感倾向、识别情绪</text></g>
<g id="n-f2"><rect class="p5" x="136.7" y="586.7" width="56.5" height="3.6" rx=".8"/><circle cx="138.6" cy="588.5" r=".85" fill="#f0504a"/><text x="140.2" y="589.3">案例：同时提取多个信息并以 JSON 输出</text></g>
<g id="n-f3"><rect class="p5" x="136.7" y="635" width="56.5" height="5.4" rx=".8"/><circle cx="138.6" cy="636.9" r=".85" fill="#f0504a"/><text x="140.2" y="637.5"><tspan x="140.2">案例：推断一段文本的主题（多个主题），</tspan><tspan x="140.2" dy="2.6">并判断文本中是否包含特定主题</tspan></text></g>
<g id="n-f1a"><rect class="p5" x="197" y="515.7" width="72" height="8.4" rx=".8"/><circle cx="198.8" cy="517.5" r=".85" fill="#f0504a"/><text x="200.4" y="518.1"><tspan x="200.4">可以让模型判断评论的情感倾向（正面/负面），</tspan><tspan x="200.4" dy="2.6">识别评论中表达的情绪类型（如愤怒、开心），</tspan><tspan x="200.4" dy="2.6">并提取商品名称和品牌等信息</tspan></text></g>
<g id="n-f1b"><rect class="p5" x="197" y="525" width="72" height="7.3" rx=".8"/><circle cx="198.8" cy="527" r=".85" fill="#f0c830"/><text x="200.4" y="527.7"><tspan x="200.4">传统机器学习需要为每个任务单独训练模型，</tspan><tspan x="200.4" dy="2.8">而 LLM 只需要编写 prompt 即可完成</tspan></text></g>
<g id="n-f1c"><rect class="p5" x="197" y="536.7" width="72" height="4" rx=".8"/><circle cx="198.8" cy="538.7" r=".85" fill="#f0504a"/><text x="200.4" y="539.5">Ver.1：判断情感 → Ver.2：识别情绪</text></g>
<g id="n-f1sum"><rect class="sm" x="276" y="521.7" width="32" height="4.3" rx=".8"/><circle cx="277.7" cy="523.85" r=".8" fill="#f0504a"/><text x="279.2" y="524.6" fill="#333">只需一个 prompt 即可完成</text></g>
<g id="n-f1c1"><rect class="p5" x="272" y="534.3" width="70" height="4" rx=".8"/><text x="273.5" y="537.1">要求以一个单词输出：positive 或 negative</text></g>
<g id="n-f1c2"><rect class="p5" x="272" y="540.3" width="70" height="4.3" rx=".8"/><text x="273.5" y="543.2">识别评论中的情绪，列出不超过五种</text></g>
<g id="n-f1csum"><rect class="sm" x="348.7" y="536.2" width="34.6" height="6.5" rx=".8"/><circle cx="350.4" cy="539.45" r=".8" fill="#f0504a"/><text x="351.9" y="540.2" fill="#333">判断是否包含愤怒情绪</text></g>
<g id="n-f2a"><rect class="p5" x="197" y="585.7" width="72" height="4.3" rx=".8"/><text x="198.5" y="588.6">从评论中提取：情绪、是否愤怒、商品、品牌</text></g>
<g id="n-f2a1"><rect class="p5" x="272" y="545.7" width="70" height="53" rx=".8"/>
<text class="c" x="273.5" y="548.4"><tspan x="273.5">prompt = f"""</tspan><tspan x="273.5" dy="2.9">Identify the following items from the review text:</tspan><tspan x="273.5" dy="2.9">- Sentiment (positive or negative)</tspan><tspan x="273.5" dy="2.9">- Is the reviewer expressing anger? (true or false)</tspan><tspan x="273.5" dy="2.9">- Item purchased by reviewer</tspan><tspan x="273.5" dy="2.9">- Company that made the item</tspan><tspan x="273.5" dy="5.2">The review is delimited with triple backticks.</tspan><tspan x="273.5" dy="2.9">Format your response as a JSON object with</tspan><tspan x="273.5" dy="2.9">"Sentiment", "Anger", "Item" and "Brand" as the keys.</tspan><tspan x="273.5" dy="2.9">If the information isn't present, use "unknown"</tspan><tspan x="273.5" dy="2.9">as the value.</tspan><tspan x="273.5" dy="2.9">Make your response as short as possible.</tspan><tspan x="273.5" dy="2.9">Format the Anger value as a boolean.</tspan><tspan x="273.5" dy="5.2">Review text: '''{lamp_review}'''</tspan><tspan x="273.5" dy="2.9">"""</tspan></text></g>
<g id="n-f2a2"><rect class="p5" x="272" y="600" width="70" height="6.7" rx=".8"/><circle cx="273.8" cy="601.9" r=".85" fill="#5a7af0"/><text x="275.4" y="602.6"><tspan x="275.4">以 JSON 格式输出，便于后续程序直接解析使用，</tspan><tspan x="275.4" dy="2.7">一个 prompt 同时完成多项推理任务</tspan></text></g>
<g id="n-f3a"><rect class="p5" x="197" y="634.3" width="72" height="5.4" rx=".8"/><text x="198.5" y="636.7"><tspan x="198.5">推断主题：给出 5 个主题，每个主题用 1~2 个词描述；</tspan><tspan x="198.5" dy="2.6">判断是否包含某主题：输出 0 或 1</tspan></text></g>
<g id="n-f3a1"><rect class="p5" x="272" y="610" width="70" height="32.7" rx=".8"/>
<text class="c" x="273.5" y="612.7"><tspan x="273.5">prompt = f"""</tspan><tspan x="273.5" dy="2.8">Determine whether each item in the following list of</tspan><tspan x="273.5" dy="2.8">topics is a topic in the text below, which</tspan><tspan x="273.5" dy="2.8">is delimited with triple backticks.</tspan><tspan x="273.5" dy="5.4">Give your answer as list with 0 or 1 for each topic.</tspan><tspan x="273.5" dy="5.4">List of topics: {", ".join(topic_list)}</tspan><tspan x="273.5" dy="5.4">Text sample: '''{story}'''</tspan><tspan x="273.5" dy="2.8">"""</tspan></text></g>
<g id="n-f3a2"><rect class="p5" x="272" y="645" width="70" height="5" rx=".8"/><circle cx="273.8" cy="647.5" r=".85" fill="#5a7af0"/><text x="275.4" y="648.3">可用于新闻提醒：出现特定主题时发出提醒</text></g>
</g>

<g id="transforming" fill="#555080">
<g id="n-tr"><rect x="96.5" y="764.3" width="36.5" height="7.4" rx="1" fill="#5a4cd1"/><text class="h" x="99" y="769.1" fill="#fff">Transforming 转换</text></g>
<g id="n-t1"><rect class="p6" x="136.7" y="721" width="56.5" height="3.6" rx=".8"/><circle cx="138.6" cy="722.8" r=".85" fill="#f0504a"/><text x="140.2" y="723.6">场景：文本转换</text></g>
<g id="n-t2"><rect class="p6" x="136.7" y="811" width="56.5" height="4" rx=".8"/><text x="138.4" y="813.8">案例：通用翻译器</text></g>
<g id="n-t1a"><rect class="p6" x="197" y="681" width="72" height="3.6" rx=".8"/><circle cx="198.8" cy="682.8" r=".85" fill="#f0504a"/><text x="200.4" y="683.6">翻译：将文本翻译成不同的语言</text></g>
<g id="n-t1b"><rect class="p6" x="197" y="720.7" width="72" height="3.6" rx=".8"/><circle cx="198.8" cy="722.5" r=".85" fill="#f5a040"/><text x="200.4" y="723.3">语气转换</text></g>
<g id="n-t1c"><rect class="p6" x="197" y="738.7" width="72" height="3.6" rx=".8"/><circle cx="198.8" cy="740.5" r=".85" fill="#f0c830"/><text x="200.4" y="741.3">格式转换</text></g>
<g id="n-t1d"><rect class="p6" x="197" y="767.7" width="72" height="3.6" rx=".8"/><circle cx="198.8" cy="769.5" r=".85" fill="#3cc07a"/><text x="200.4" y="770.3">拼写及语法检查：Proofread and correct this review</text></g>
<g id="n-t1a1"><rect class="p6" x="272" y="656" width="70" height="16.7" rx=".8"/><text class="c" x="273.5" y="658.7"><tspan x="273.5" style="font-size:2.2px">翻译为西班牙语</tspan><tspan x="273.5" dy="2.9">prompt = f"""</tspan><tspan x="273.5" dy="2.9">Translate the following English text to Spanish: \</tspan><tspan x="273.5" dy="2.9">```Hi, I would like to order a blender```</tspan><tspan x="273.5" dy="2.9">"""</tspan></text></g>
<g id="n-t1a2"><rect class="p6" x="272" y="674" width="70" height="16.7" rx=".8"/><text class="c" x="273.5" y="676.7"><tspan x="273.5" style="font-size:2.2px">识别语种</tspan><tspan x="273.5" dy="2.9">prompt = f"""</tspan><tspan x="273.5" dy="2.9">Tell me which language this is:</tspan><tspan x="273.5" dy="2.9">```Combien coûte le lampadaire?```</tspan><tspan x="273.5" dy="2.9">"""</tspan></text></g>
<g id="n-t1a3"><rect class="p6" x="272" y="692.7" width="70" height="19.3" rx=".8"/><text class="c" x="273.5" y="695.4"><tspan x="273.5" style="font-size:2.2px">翻译为多种语言</tspan><tspan x="273.5" dy="2.9">prompt = f"""</tspan><tspan x="273.5" dy="2.9">Translate the following text to French and Spanish</tspan><tspan x="273.5" dy="2.9">and English pirate:</tspan><tspan x="273.5" dy="2.9">```I want to order a basketball```</tspan><tspan x="273.5" dy="2.9">"""</tspan></text></g>
<g id="n-t1b1"><rect class="p6" x="272" y="713.7" width="70" height="16.3" rx=".8"/><text class="c" x="273.5" y="716.4"><tspan x="273.5" style="font-size:2.2px">将俚语转换为商务信函</tspan><tspan x="273.5" dy="2.9">prompt = f"""</tspan><tspan x="273.5" dy="2.9">Translate the following from slang to a business letter:</tspan><tspan x="273.5" dy="2.9">'Dude, This is Joe, check out this spec on this lamp.'</tspan><tspan x="273.5" dy="2.9">"""</tspan></text></g>
<g id="n-t1c1"><rect class="p6" x="272" y="732" width="70" height="16.7" rx=".8"/><text class="c" x="273.5" y="734.7"><tspan x="273.5">prompt = f"""</tspan><tspan x="273.5" dy="2.9">Translate the following python dictionary from JSON to an</tspan><tspan x="273.5" dy="2.9">HTML table with column headers and title:</tspan><tspan x="273.5" dy="2.9">{data_json}</tspan><tspan x="273.5" dy="2.9">"""</tspan></text></g>
<g id="n-t1d1"><rect class="p6" x="272" y="750.7" width="70" height="16" rx=".8"/><text class="c" x="273.5" y="753.4"><tspan x="273.5">text = ["The girl with the black and white puppies have a</tspan><tspan x="273.5" dy="2.9">ball.", "Yolanda has her notebook.", ...]</tspan><tspan x="273.5" dy="2.9">for t in text:</tspan><tspan x="273.5" dy="2.9">  prompt = f"Proofread and correct: ```{t}```"</tspan><tspan x="273.5" dy="2.9">  response = get_completion(prompt)</tspan></text></g>
<g id="n-t1d2"><rect class="p6" x="272" y="768.3" width="70" height="23" rx=".8"/><text class="c" x="273.5" y="771"><tspan x="273.5">prompt = f"""</tspan><tspan x="273.5" dy="2.9">proofread and correct this review. Make it more</tspan><tspan x="273.5" dy="2.9">compelling. Ensure it follows APA style guide and</tspan><tspan x="273.5" dy="2.9">targets an advanced reader.</tspan><tspan x="273.5" dy="2.9">Output in markdown format.</tspan><tspan x="273.5" dy="2.9">Text: ```{text}```</tspan><tspan x="273.5" dy="2.9">"""</tspan></text></g>
<g id="n-t2a"><rect class="p6" x="197" y="792.7" width="72" height="40.6" rx=".8"/><text class="c" x="198.5" y="795.4"><tspan x="198.5" style="font-size:2.2px">通用翻译器 示例</tspan><tspan x="198.5" dy="2.9">user_messages = [</tspan><tspan x="198.5" dy="2.9">  "La performance du système est plus lente que d'habitude.",</tspan><tspan x="198.5" dy="2.9">  "Mi monitor tiene píxeles que no se iluminan.", ...]</tspan><tspan x="198.5" dy="2.9">for issue in user_messages:</tspan><tspan x="198.5" dy="2.9">  prompt = f"Tell me what language this is: ```{issue}```"</tspan><tspan x="198.5" dy="2.9">  lang = get_completion(prompt)</tspan><tspan x="198.5" dy="2.9">  print(f"Original message ({lang}): {issue}")</tspan><tspan x="198.5" dy="2.9">  prompt = f"""</tspan><tspan x="198.5" dy="2.9">  Translate the following text to English</tspan><tspan x="198.5" dy="2.9">  and Korean: ```{issue}```</tspan><tspan x="198.5" dy="2.9">  """</tspan><tspan x="198.5" dy="2.9">  response = get_completion(prompt)</tspan></text></g>
</g>

<g id="expanding" fill="#8a4545">
<g id="n-exp"><rect x="96.5" y="860.8" width="36.5" height="7.4" rx="1" fill="#f3474a"/><text class="h" x="99" y="865.6" fill="#fff">Expanding 扩展</text></g>
<g id="n-e1"><rect class="p1" x="136.7" y="840" width="56.5" height="4" rx=".8"/><circle cx="138.6" cy="842" r=".85" fill="#f0504a"/><text x="140.2" y="842.8">1. 功能：将短文本扩写为长文本（如邮件）</text></g>
<g id="n-e2"><rect class="p1" x="136.7" y="852.3" width="56.5" height="3.7" rx=".8"/><circle cx="138.6" cy="854.1" r=".85" fill="#f0504a"/><text x="140.2" y="854.9">2. Temperature</text></g>
<g id="n-e3"><rect class="p1" x="136.7" y="886" width="56.5" height="3.6" rx=".8"/><text x="138.4" y="888.6">案例：AI 客服自动回复邮件</text></g>
<g id="n-e2a"><rect class="p1" x="197" y="846" width="72" height="3.7" rx=".8"/><text x="198.5" y="848.6">温度为 0 时，每次输出结果都相同，可预测</text></g>
<g id="n-e2b"><rect class="p1" x="197" y="852" width="72" height="3.7" rx=".8"/><text x="198.5" y="854.6">温度越高，输出越随机，更有创造性</text></g>
<g id="n-e2c"><rect class="p1" x="197" y="858.3" width="72" height="3.7" rx=".8"/><text x="198.5" y="860.9">可靠、可预测的应用场景建议设置为 0</text></g>
<g id="n-e2sum"><rect class="sm" x="276" y="849" width="20" height="4.3" rx=".8"/><text x="277.5" y="851.9" fill="#333">温度参数</text></g>
<g id="n-e2s1"><rect class="p1" x="300" y="849" width="24.3" height="4" rx=".8"/><text x="301.4" y="851.8">控制随机性</text></g>
<g id="n-e2c1"><rect class="p1" x="272" y="858.7" width="70" height="4" rx=".8"/><text x="273.5" y="861.5">温度越高，生成的内容越多样，但可能不稳定</text></g>
<g id="n-e3a"><rect class="p1" x="197" y="864" width="72" height="46.7" rx=".8"/><text class="c" x="198.5" y="866.7"><tspan x="198.5">prompt = f"""</tspan><tspan x="198.5" dy="2.95">You are a customer service AI assistant.</tspan><tspan x="198.5" dy="2.95">Your task is to send an email reply to a valued customer.</tspan><tspan x="198.5" dy="2.95">Given the customer email delimited by ```, \</tspan><tspan x="198.5" dy="2.95">Generate a reply to thank the customer for their review.</tspan><tspan x="198.5" dy="2.95">If the sentiment is positive or neutral, thank them for</tspan><tspan x="198.5" dy="2.95">their review.</tspan><tspan x="198.5" dy="2.95">If the sentiment is negative, apologize and suggest that</tspan><tspan x="198.5" dy="2.95">they can reach out to customer service.</tspan><tspan x="198.5" dy="2.95">Make sure to use specific details from the review.</tspan><tspan x="198.5" dy="2.95">Write in a concise and professional tone.</tspan><tspan x="198.5" dy="2.95">Sign the email as `AI customer agent`.</tspan><tspan x="198.5" dy="2.95">Customer review: ```{review}```</tspan><tspan x="198.5" dy="2.95">Review sentiment: {sentiment}</tspan><tspan x="198.5" dy="2.95">"""</tspan></text></g>
</g>

<g id="chatbot" fill="#85603f">
<g id="n-chat"><rect x="96.5" y="1062.8" width="36.5" height="7.4" rx="1" fill="#f7a24b"/><text class="h" x="99" y="1067.6" fill="#3a2716">Chatbot 聊天机器人</text></g>
<g id="n-c1"><rect class="p2" x="136.7" y="1009.3" width="56.5" height="4" rx=".8"/><text x="138.4" y="1012.1">案例：创建一个自定义的聊天机器人</text></g>
<g id="n-c2"><rect class="p2" x="136.7" y="1119" width="56.5" height="3.5" rx=".8"/><text x="138.4" y="1121.6">三种角色（role）</text></g>
<g id="n-c1a"><rect class="p2" x="197" y="974.3" width="72" height="3.5" rx=".8"/><text x="198.5" y="976.9">调用 OpenAI</text></g>
<g id="n-c1b"><rect class="p2" x="197" y="1044.7" width="72" height="3.6" rx=".8"/><text x="198.5" y="1047.3">案例：点餐机器人</text></g>
<g id="n-c1a1"><rect class="p2" x="272" y="947.3" width="70" height="3.2" rx=".8"/><text x="273.5" y="949.7">两个函数</text></g>
<g id="n-c1a2"><rect class="p2" x="272" y="1001" width="70" height="3.7" rx=".8"/><text x="273.5" y="1003.6">将 messages 传入模型进行多轮对话</text></g>
<g id="n-fn1"><rect class="p2" x="346" y="916.7" width="75.7" height="31" rx=".8"/><text class="c" x="347.5" y="919.4"><tspan x="347.5">def get_completion(prompt, model="gpt-3.5-turbo"):</tspan><tspan x="347.5" dy="2.9">    messages = [{"role": "user", "content": prompt}]</tspan><tspan x="347.5" dy="2.9">    response = openai.ChatCompletion.create(</tspan><tspan x="347.5" dy="2.9">        model=model,</tspan><tspan x="347.5" dy="2.9">        messages=messages,</tspan><tspan x="347.5" dy="2.9">        temperature=0, # this is the degree of randomness of the</tspan><tspan x="347.5" dy="2.9">model's output</tspan><tspan x="347.5" dy="2.9">    )</tspan><tspan x="347.5" dy="2.9">    return response.choices[0].message["content"]</tspan></text></g>
<g id="n-fn2"><rect class="p2" x="346" y="950" width="75.7" height="31.7" rx=".8"/><text class="c" x="347.5" y="952.7"><tspan x="347.5">def get_completion_from_messages(messages, model="gpt-3.5-</tspan><tspan x="347.5" dy="2.85">turbo", temperature=0):</tspan><tspan x="347.5" dy="2.85">    response = openai.ChatCompletion.create(</tspan><tspan x="347.5" dy="2.85">        model=model,</tspan><tspan x="347.5" dy="2.85">        messages=messages,</tspan><tspan x="347.5" dy="2.85">        temperature=temperature, # this is the degree of randomness</tspan><tspan x="347.5" dy="2.85">of the model's output</tspan><tspan x="347.5" dy="2.85">    )</tspan><tspan x="347.5" dy="2.85">#    print(str(response.choices[0].message))</tspan><tspan x="347.5" dy="2.85">    return response.choices[0].message["content"]</tspan></text></g>
<g id="n-msg1"><rect class="p2" x="346" y="982.7" width="75.7" height="19.6" rx=".8"/><text class="c" x="347.5" y="985.4"><tspan x="347.5">messages = [</tspan><tspan x="347.5" dy="2.9">{'role':'system', 'content':'You are an assistant that speaks like</tspan><tspan x="347.5" dy="2.9">Shakespeare.'},</tspan><tspan x="347.5" dy="2.9">{'role':'user', 'content':'tell me a joke'},</tspan><tspan x="347.5" dy="2.9">{'role':'assistant', 'content':'Why did the chicken cross the road'},</tspan><tspan x="347.5" dy="2.9">{'role':'user', 'content':'I don\'t know'} ]</tspan></text></g>
<g id="n-msg2"><rect class="p2" x="346" y="1011.7" width="75.7" height="3.6" rx=".8"/><text x="347.5" y="1014.3">messages 是一个列表，包含每一轮的对话内容</text></g>
<g id="n-msg2a"><rect class="p2" x="426.7" y="1004" width="36" height="6.7" rx=".8"/><text x="428" y="1006.8"><tspan x="428">每次调用都要把之前的对话</tspan><tspan x="428" dy="2.7">一起传入模型</tspan></text></g>
<g id="n-msg2b"><rect class="p2" x="426.7" y="1014" width="36" height="10" rx=".8"/><text x="428" y="1016.7"><tspan x="428">模型本身没有记忆，需要将</tspan><tspan x="428" dy="2.7">完整的上下文（所有消息）</tspan><tspan x="428" dy="2.7">提供给模型</tspan></text></g>
<g id="n-ctx"><rect class="p2" x="272" y="1026" width="70" height="14" rx=".8"/><text class="c" x="273.5" y="1028.6"><tspan x="273.5">context = [ {'role':'system', 'content':"""</tspan><tspan x="273.5" dy="3.2">You are OrderBot, an automated service to collect orders</tspan><tspan x="273.5" dy="3.2">for a pizza restaurant. ...</tspan><tspan x="273.5" dy="3.2">"""} ]  # accumulate messages</tspan></text></g>
<g id="n-collect"><rect class="p2" x="272" y="1041" width="70" height="40.7" rx=".8"/><text class="c" x="273.5" y="1043.8"><tspan x="273.5">def collect_messages(_):</tspan><tspan x="273.5" dy="2.9">    prompt = inp.value_input</tspan><tspan x="273.5" dy="2.9">    inp.value = ''</tspan><tspan x="273.5" dy="2.9">    context.append({'role':'user', 'content':f"{prompt}"})</tspan><tspan x="273.5" dy="2.9">    response = get_completion_from_messages(context)</tspan><tspan x="273.5" dy="2.9">    context.append({'role':'assistant', 'content':f"{response}"})</tspan><tspan x="273.5" dy="2.9">    panels.append(</tspan><tspan x="273.5" dy="2.9">        pn.Row('User:', pn.pane.Markdown(prompt, width=600)))</tspan><tspan x="273.5" dy="2.9">    panels.append(</tspan><tspan x="273.5" dy="2.9">        pn.Row('Assistant:', pn.pane.Markdown(response, width=600,</tspan><tspan x="273.5" dy="2.9">style={'background-color': '#F6F6F6'})))</tspan><tspan x="273.5" dy="5.2">    return pn.Column(*panels)</tspan></text></g>
<g id="n-q1"><rect class="p2" x="346" y="1051" width="75.7" height="4.6" rx=".8"/><circle cx="347.8" cy="1053.3" r=".85" fill="#f0504a"/><text x="349.4" y="1054.1">用户需要提供足够的信息才能完成下单</text></g>
<g id="n-q2"><rect class="p2" x="346" y="1067" width="75.7" height="4.6" rx=".8"/><circle cx="347.8" cy="1069.3" r=".85" fill="#5a7af0"/><text x="349.4" y="1070.1">问题：如何让模型最后输出 JSON 格式的订单？</text></g>
<g id="n-q2a"><rect class="p2" x="426.7" y="1058.3" width="36" height="6.7" rx=".8"/><text x="428" y="1061.1"><tspan x="428">让模型总结订单，并使用</tspan><tspan x="428" dy="2.7">JSON 格式输出</tspan></text></g>
<g id="n-q2b"><rect class="p2" x="426.7" y="1067.3" width="36" height="4.4" rx=".8"/><text x="428" y="1070.3">降低 temperature 参数</text></g>
<g id="n-q2c"><rect class="p2" x="426.7" y="1073.3" width="36" height="4.4" rx=".8"/><text x="428" y="1076.3">其他？</text></g>
<g id="n-sys"><rect class="p2" x="197" y="1091" width="72" height="3.3" rx=".8"/><text x="198.5" y="1093.4">System</text></g>
<g id="n-ast"><rect class="p2" x="197" y="1119" width="72" height="3.3" rx=".8"/><text x="198.5" y="1121.4">Assistant</text></g>
<g id="n-usr"><rect class="p2" x="197" y="1140" width="72" height="3.3" rx=".8"/><text x="198.5" y="1142.4">User</text></g>
<g id="n-sys1"><rect class="p2" x="272" y="1082.7" width="70" height="4.6" rx=".8"/><text x="273.5" y="1085.8">设定助手的行为和角色，作为对话的高级指令</text></g>
<g id="n-sys2"><rect class="p2" x="272" y="1089.3" width="70" height="6.7" rx=".8"/><text x="273.5" y="1092.1"><tspan x="273.5">系统消息可以帮助设置助手的行为和人设，</tspan><tspan x="273.5" dy="2.8">让助手在整个对话中保持一致</tspan></text></g>
<g id="n-sys3"><rect class="p2" x="272" y="1098.3" width="70" height="7.7" rx=".8"/><text x="273.5" y="1101.4"><tspan x="273.5">system 消息对用户是不可见的，用户只能</tspan><tspan x="273.5" dy="2.8">看到 assistant 的回复</tspan></text></g>
<g id="n-ast1"><rect class="p2" x="272" y="1107.7" width="70" height="7.6" rx=".8"/><text x="273.5" y="1110.8"><tspan x="273.5">助手即聊天模型本身，负责回复用户的消息，</tspan><tspan x="273.5" dy="2.8">也可以预先写入助手的回复</tspan></text></g>
<g id="n-ast2"><rect class="p2" x="272" y="1117.3" width="70" height="8" rx=".8"/><text x="273.5" y="1120.5"><tspan x="273.5">把之前助手的回复放入 messages，模型就能</tspan><tspan x="273.5" dy="2.8">“记住”之前的对话内容</tspan></text></g>
<g id="n-ast3"><rect class="p2" x="272" y="1126.3" width="70" height="4.4" rx=".8"/><text x="273.5" y="1129.3">助手的回复会根据上下文生成</text></g>
<g id="n-usr1"><rect class="p2" x="272" y="1133.3" width="70" height="7.4" rx=".8"/><text x="273.5" y="1136.4"><tspan x="273.5">用户即与聊天机器人对话的人，向助手提出问题</tspan><tspan x="273.5" dy="2.8">或发出指令</tspan></text></g>
<g id="n-usr2"><rect class="p2" x="272" y="1142.7" width="70" height="6.6" rx=".8"/><text x="273.5" y="1145.5"><tspan x="273.5">用户的消息会与之前的对话一起传给模型，</tspan><tspan x="273.5" dy="2.7">模型据此生成回复</tspan></text></g>
<g id="n-rel1"><rect x="238" y="1105.8" width="5.2" height="2.8" rx=".5" fill="#fff" stroke="#44506e" stroke-width=".3"/><text x="240.6" y="1107.7" text-anchor="middle" style="font-size:1.4px" fill="#333">设定</text></g>
<g id="n-rel2"><rect x="225.6" y="1133.4" width="5.2" height="2.8" rx=".5" fill="#fff" stroke="#44506e" stroke-width=".3"/><text x="228.2" y="1135.3" text-anchor="middle" style="font-size:1.4px" fill="#333">回复</text></g>
</g>

<g id="conclusion" fill="#7a6620">
<g id="n-con"><rect x="96.5" y="1181.8" width="36.5" height="7.4" rx="1" fill="#f2d12a"/><text class="h" x="99" y="1186.6" fill="#3a3010">Conclusion 总结</text></g>
<g id="n-k1"><rect class="p3" x="136.7" y="1163.7" width="56.5" height="3.3" rx=".8"/><text x="138.4" y="1166.1">Principles 原则</text></g>
<g id="n-k2"><rect class="p3" x="136.7" y="1175" width="56.5" height="3.3" rx=".8"/><text x="138.4" y="1177.4">Iterative prompt development 迭代提示开发</text></g>
<g id="n-k3"><rect class="p3" x="136.7" y="1190.3" width="56.5" height="3.3" rx=".8"/><text x="138.4" y="1192.7">Capabilities 能力</text></g>
<g id="n-k4"><rect class="p3" x="136.7" y="1206.7" width="56.5" height="3.3" rx=".8"/><text x="138.4" y="1209.1">Building a chatbot 构建聊天机器人</text></g>
<g id="n-k1a"><rect class="p3" x="197" y="1155.7" width="72" height="6.6" rx=".8"/><text x="198.5" y="1158.4"><tspan x="198.5">Write clear and specific instructions</tspan><tspan x="198.5" dy="2.7">编写明确和具体的指令</tspan></text></g>
<g id="n-k1b"><rect class="p3" x="197" y="1165.3" width="72" height="6.7" rx=".8"/><text x="198.5" y="1168"><tspan x="198.5">Give the model time to think</tspan><tspan x="198.5" dy="2.7">给模型思考的时间</tspan></text></g>
<g id="n-k3a"><rect class="p3" x="197" y="1180.7" width="72" height="3.3" rx=".8"/><text x="198.5" y="1183.1">Summarizing 摘要</text></g>
<g id="n-k3b"><rect class="p3" x="197" y="1187" width="72" height="3.3" rx=".8"/><text x="198.5" y="1189.4">Inferring 推理</text></g>
<g id="n-k3c"><rect class="p3" x="197" y="1193" width="72" height="3.3" rx=".8"/><text x="198.5" y="1195.4">Transforming 转换</text></g>
<g id="n-k3d"><rect class="p3" x="197" y="1199" width="72" height="3.3" rx=".8"/><text x="198.5" y="1201.4">Expanding 扩展</text></g>
</g>
<text x="271" y="1225.2" text-anchor="middle" fill="#e2e2e2" style="font-size:3.4px">Generated with xmind</text>
</svg>
